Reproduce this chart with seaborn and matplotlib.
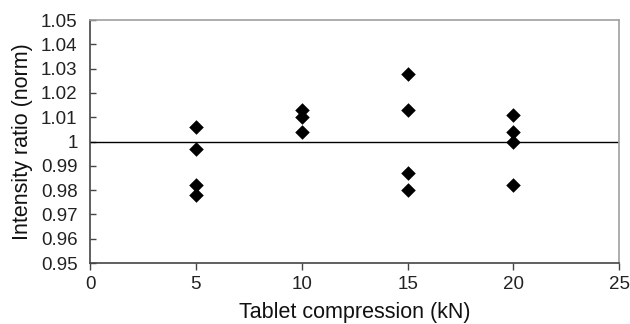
import matplotlib
matplotlib.use("Agg")
import pandas as pd
import seaborn as sns
from matplotlib import pyplot as plt

# compression force (kN) and normalised intensity ratio
compression = [5, 5, 5, 5, 10, 10, 10, 15, 15, 15, 15, 20, 20, 20, 20]
ratio = [1.006, 0.997, 0.982, 0.978,
         1.013, 1.010, 1.004,
         1.028, 1.013, 0.987, 0.980,
         1.011, 1.004, 1.000, 0.982]
x_ticks = [0, 5, 10, 15, 20, 25]
y_ticks = [0.95, 0.96, 0.97, 0.98, 0.99, 1.0, 1.01, 1.02, 1.03, 1.04, 1.05]
y_labels = ["0.95", "0.96", "0.97", "0.98", "0.99", "1", "1.01", "1.02", "1.03", "1.04", "1.05"]
ref_x = [0, 25]
ref_y = [1.0, 1.0]

df = pd.DataFrame({"compression": compression, "ratio": ratio})

sns.set_style("white")
plt.rcParams["font.family"] = ["Liberation Sans", "DejaVu Sans"]

fig = plt.figure(figsize=(6.3, 3.24), dpi=100)
ax = fig.add_axes([0.143, 0.188, 0.84, 0.75])

sns.lineplot(x=ref_x, y=ref_y, color="black", linewidth=1.0, ax=ax)
sns.scatterplot(data=df, x="compression", y="ratio", marker="D", s=55,
                color="black", edgecolor="black", linewidth=0, ax=ax, zorder=3)

ax.set_xlim(0, 25)
ax.set_ylim(0.95, 1.05)
ax.set_xticks(x_ticks)
ax.set_xticklabels([str(t) for t in x_ticks])
ax.set_yticks(y_ticks)
ax.set_yticklabels(y_labels)
ax.tick_params(axis="x", direction="out", length=5, width=1, color="#444444",
               labelsize=13.5, pad=4, bottom=True, labelcolor="#222222")
ax.tick_params(axis="y", direction="in", length=4, width=1, color="#444444",
               labelsize=13.5, pad=9, left=True, labelcolor="#222222")
ax.set_xlabel("Tablet compression (kN)", fontsize=15.5, labelpad=7, color="#111111")
ax.set_ylabel("Intensity ratio (norm)", fontsize=15.5, labelpad=6, color="#111111")

for side in ("left", "bottom"):
    ax.spines[side].set_color("#444444")
    ax.spines[side].set_linewidth(1.2)
for side in ("top", "right"):
    ax.spines[side].set_color("#a0a0a0")
    ax.spines[side].set_linewidth(1.2)

fig.savefig("out.png", dpi=100)
